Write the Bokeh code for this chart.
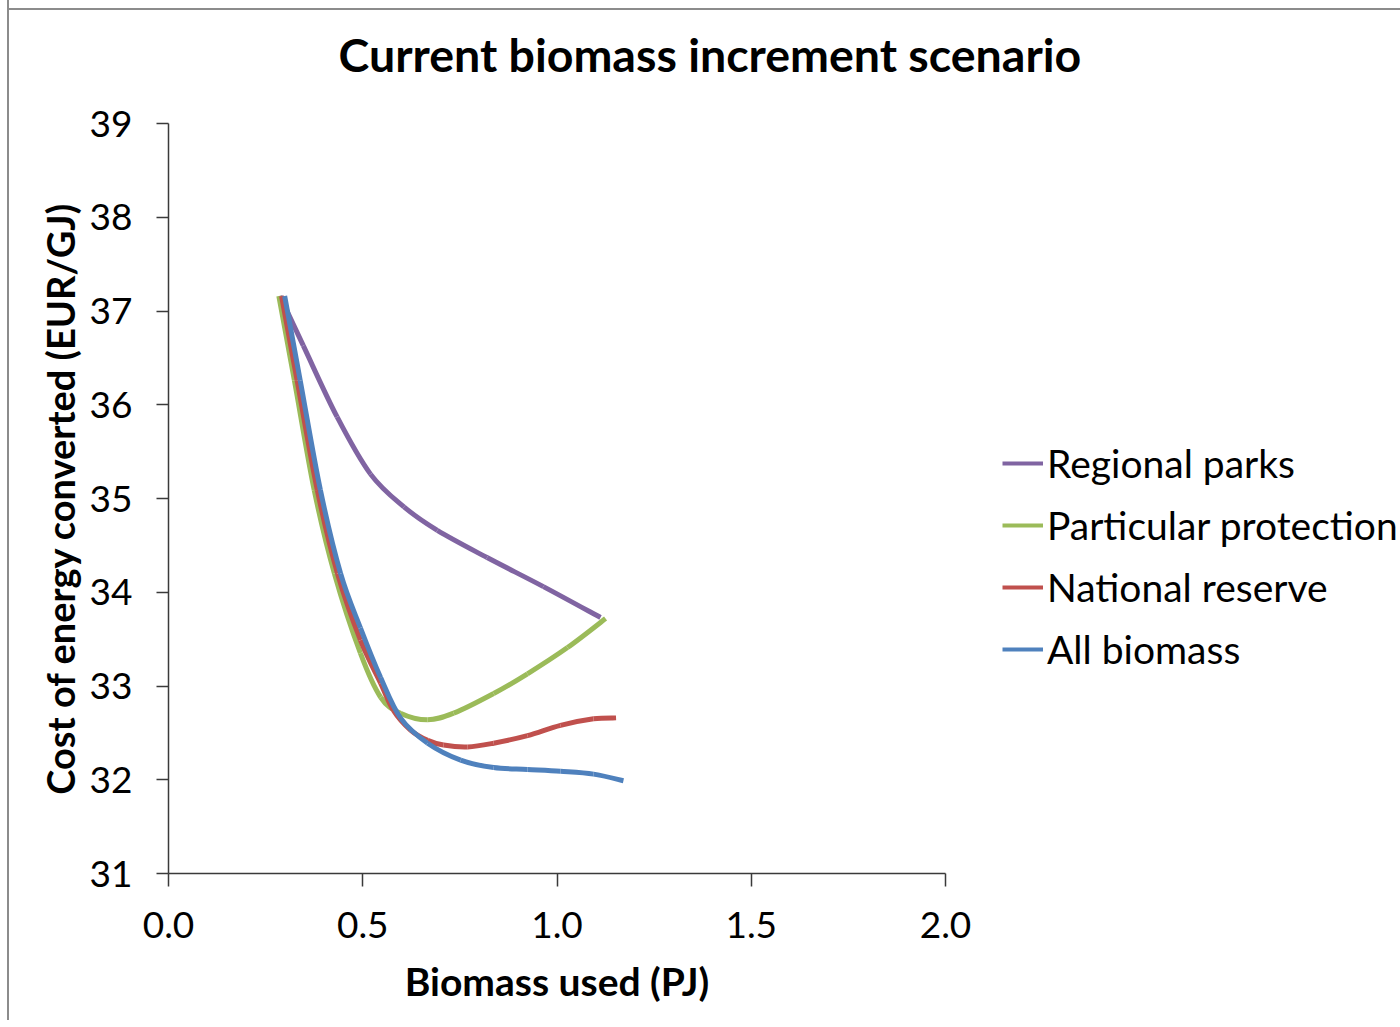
from bokeh.plotting import figure
from bokeh.models import (Legend, LegendItem, FixedTicker, NumeralTickFormatter,
                          Range1d, ColumnDataSource, Title)
from bokeh.embed import file_html
from bokeh.resources import INLINE

# ---- data ----
title_text = "Current biomass increment scenario"
x_label = "Biomass used (PJ)"
y_label = "Cost of energy converted (EUR/GJ)"

names = ["Regional parks", "Particular protection", "National reserve", "All biomass"]
colors = ["#8064A2", "#9BBB59", "#C0504D", "#4F81BD"]

regional_x = [0.287, 0.347, 0.434, 0.520, 0.606, 0.692, 0.820, 0.965, 1.112]
regional_y = [37.16, 36.63, 35.87, 35.26, 34.91, 34.66, 34.37, 34.06, 33.73]

particular_x = [0.284, 0.324, 0.375, 0.427, 0.494, 0.546, 0.597, 0.667, 0.734, 0.837, 0.924, 1.027, 1.125]
particular_y = [37.16, 36.26, 35.09, 34.20, 33.35, 32.88, 32.71, 32.64, 32.71, 32.92, 33.13, 33.41, 33.72]

national_x = [0.291, 0.331, 0.383, 0.435, 0.494, 0.546, 0.579, 0.623, 0.667, 0.708, 0.770, 0.837,
              0.924, 1.009, 1.094, 1.152]
national_y = [37.16, 36.26, 35.09, 34.20, 33.49, 33.03, 32.74, 32.53, 32.42, 32.37, 32.35, 32.39,
              32.47, 32.58, 32.65, 32.66]

all_x = [0.299, 0.339, 0.391, 0.443, 0.494, 0.546, 0.597, 0.667, 0.752, 0.837, 0.924, 1.009, 1.094, 1.171]
all_y = [37.16, 36.26, 35.09, 34.20, 33.62, 33.09, 32.66, 32.39, 32.21, 32.13, 32.11, 32.09, 32.06, 31.99]

series_x = [regional_x, particular_x, national_x, all_x]
series_y = [regional_y, particular_y, national_y, all_y]

x_ticks = [0.0, 0.5, 1.0, 1.5, 2.0]
y_ticks = [31, 32, 33, 34, 35, 36, 37, 38, 39]

FONT = "Lato"


def smooth_segments(xs, ys):
    """Bezier segments through the points (Excel-like smoothed line)."""
    n = len(xs)
    d = dict(x0=[], y0=[], x1=[], y1=[], cx0=[], cy0=[], cx1=[], cy1=[])
    for i in range(n - 1):
        pm = i - 1 if i > 0 else i
        pp = i + 2 if i + 2 < n else i + 1
        d["x0"].append(xs[i]); d["y0"].append(ys[i])
        d["x1"].append(xs[i + 1]); d["y1"].append(ys[i + 1])
        d["cx0"].append(xs[i] + (xs[i + 1] - xs[pm]) / 6.0)
        d["cy0"].append(ys[i] + (ys[i + 1] - ys[pm]) / 6.0)
        d["cx1"].append(xs[i + 1] - (xs[pp] - xs[i]) / 6.0)
        d["cy1"].append(ys[i + 1] - (ys[pp] - ys[i]) / 6.0)
    return d


p = figure(frame_width=777, frame_height=750, output_backend="svg", toolbar_location=None,
           x_range=Range1d(0, 2), y_range=Range1d(31, 39), title=None,
           min_border_left=159, min_border_right=447, min_border_top=142, min_border_bottom=147,
           background_fill_color="white", border_fill_alpha=0,
           styles={"margin-left": "7px", "margin-top": "-19px",
                   "border-left": "2px solid #8c8c8c",
                   "background": "linear-gradient(#8c8c8c, #8c8c8c) 0 27px / 100% 2px no-repeat, white"})
p.outline_line_color = None
p.grid.visible = False

for ax in (p.xaxis, p.yaxis):
    ax.axis_line_color = "#3a3a3a"
    ax.axis_line_width = 1.5
    ax.major_tick_line_color = "#3a3a3a"
    ax.major_tick_line_width = 1.5
    ax.minor_tick_line_color = None
    ax.major_tick_in = 0
    ax.major_label_text_font = FONT
    ax.major_label_text_font_size = "37px"
    ax.major_label_text_color = "black"
    ax.axis_label_text_font = FONT
    ax.axis_label_text_font_style = "bold"
    ax.axis_label_text_color = "black"

p.xaxis.ticker = FixedTicker(ticks=x_ticks)
p.xaxis.formatter = NumeralTickFormatter(format="0.0")
p.xaxis.major_tick_out = 13
p.xaxis.major_label_standoff = 25
p.xaxis.axis_label = x_label
p.xaxis.axis_label_text_font_size = "39px"
p.xaxis.axis_label_standoff = 17

p.yaxis.ticker = FixedTicker(ticks=y_ticks)
p.yaxis.major_tick_out = 12
p.yaxis.major_label_standoff = 24
p.yaxis.axis_label = y_label
p.yaxis.axis_label_text_font_size = "38px"
p.yaxis.axis_label_standoff = 4

items = []
for name, col, xs, ys in zip(names, colors, series_x, series_y):
    src = ColumnDataSource(smooth_segments(xs, ys))
    p.bezier(x0="x0", y0="y0", x1="x1", y1="y1", cx0="cx0", cy0="cy0", cx1="cx1", cy1="cy1",
             source=src, line_color=col, line_width=5)
    # one-point line: draws nothing on the plot, gives the legend its swatch
    proxy = p.line(x=xs[:1], y=ys[:1], line_color=col, line_width=4)
    items.append(LegendItem(label=name, renderers=[proxy]))

legend = Legend(items=items, location=(57, 193), padding=0, margin=0, spacing=0,
                glyph_width=41, glyph_height=62, label_height=62, label_standoff=4,
                label_text_font=FONT, label_text_font_size="39px", label_text_color="black",
                border_line_color=None, background_fill_alpha=0)
p.add_layout(legend, "right")

title = Title(text=title_text, align="left", offset=170, vertical_align="bottom", standoff=84,
              text_font=FONT, text_font_style="bold", text_font_size="46.5px", text_color="black")
p.add_layout(title, "above")

open("out.html", "w").write(file_html(p, INLINE))
